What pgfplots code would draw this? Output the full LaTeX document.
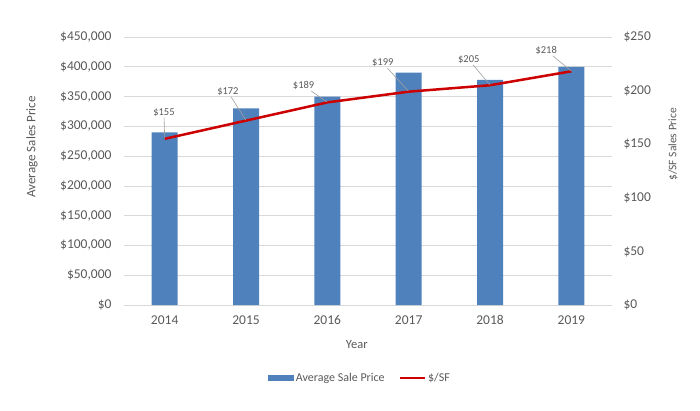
\documentclass[border=0pt]{standalone}
\usepackage{fontspec}
\setmainfont{Carlito}
\usepackage{pgfplots}
\pgfplotsset{compat=1.18}
\definecolor{txt}{HTML}{595959}
\definecolor{gridc}{HTML}{D9D9D9}
\definecolor{barblue}{HTML}{4F81BD}
\definecolor{linered}{HTML}{CC0000}
\pgfplotsset{
  pinlab/.style 2 args={draw=none, forget plot, nodes near coords={},
    every node near coord/.style={inner sep=0pt, minimum size=0pt,
      pin={[pin distance=#1, pin edge={gray!75, line width=0.6bp},
            font=\fontsize{10.5bp}{12bp}\selectfont, text=txt, inner sep=1bp]#2}}},
  common/.style={
    at={(124bp,105bp)}, anchor=south west,
    scale only axis, width=488bp, height=268bp,
    xmin=-0.5, xmax=5.5, clip=false,
    major tick length=0pt,
    tick label style={text=txt, font=\fontsize{13.5bp}{15bp}\selectfont},
    label style={text=txt},
    scaled y ticks=false,
    /pgf/number format/.cd, fixed, precision=0, 1000 sep={,}, assume math mode=true, /pgfplots/.cd,
  }
}
\begin{document}
\begin{tikzpicture}[x=1bp,y=1bp]
\path[use as bounding box] (0,0) rectangle (700,410);
\begin{axis}[common,
  ymin=0, ymax=450000,
  xtick={0,...,5}, xticklabels={2014,2015,2016,2017,2018,2019},
  xticklabel style={yshift=-7bp},
  ytick={0,50000,...,450000},
  yticklabel={\$\pgfmathprintnumber{\tick}},
  yticklabel style={xshift=-9bp},
  ymajorgrids, grid style={gridc, line width=0.75bp},
  axis x line*=bottom, axis y line*=left,
  x axis line style={draw=gridc, line width=0.75bp, -},
  y axis line style={draw=none},
  xlabel={Year},
  xlabel style={at={(axis description cs:0.477,-0.149)}, anchor=center, font=\fontsize{12.5bp}{14bp}\selectfont},
  ylabel={Average Sales Price},
  ylabel style={at={(axis description cs:-0.1885,0.59)}, anchor=center, rotate=0, font=\fontsize{13bp}{15bp}\selectfont},
]
\addplot[ybar, bar width=26bp, fill=barblue, draw=none] coordinates {
  (0,290000) (1,330000) (2,350000) (3,390000) (4,378000) (5,400000)};
\end{axis}
\begin{axis}[common,
  ymin=0, ymax=250,
  axis y line*=right, axis x line=none,
  y axis line style={draw=none},
  ytick={0,50,...,250},
  yticklabel={\$\pgfmathprintnumber{\tick}},
  yticklabel style={xshift=8bp},
  ylabel={\$/SF Sales Price},
  ylabel style={at={(axis description cs:1.125,0.60)}, anchor=center, rotate=0, font=\fontsize{11.5bp}{13bp}\selectfont},
  legend style={at={(axis description cs:0.484,-0.272)}, anchor=center,
    draw=none, fill=none, text=txt, font=\fontsize{12bp}{14bp}\selectfont,
    /tikz/every even column/.append style={column sep=12bp}},
  legend columns=2,
]
\addlegendimage{legend image code/.code={\fill[barblue] (0bp,-2.5bp) rectangle (25bp,2.5bp);}}
\addlegendentry{Average Sale Price}
\addplot[linered, line width=2.5bp,
  legend image code/.code={\draw[linered, line width=2.5bp] (0bp,0bp) -- (25bp,0bp);}]
  coordinates {(0,155) (1,172) (2,189) (3,199) (4,205) (5,218)};
\addlegendentry{\$/SF}
\addplot[pinlab={21bp}{92:\$155}] coordinates {(0,155)};
\addplot[pinlab={24bp}{105:\$172}] coordinates {(1,172)};
\addplot[pinlab={16bp}{137:\$189}] coordinates {(2,189)};
\addplot[pinlab={27bp}{121:\$199}] coordinates {(3,199)};
\addplot[pinlab={22bp}{115:\$205}] coordinates {(4,205)};
\addplot[pinlab={20bp}{131:\$218}] coordinates {(5,218)};
\end{axis}
\end{tikzpicture}
\end{document}
